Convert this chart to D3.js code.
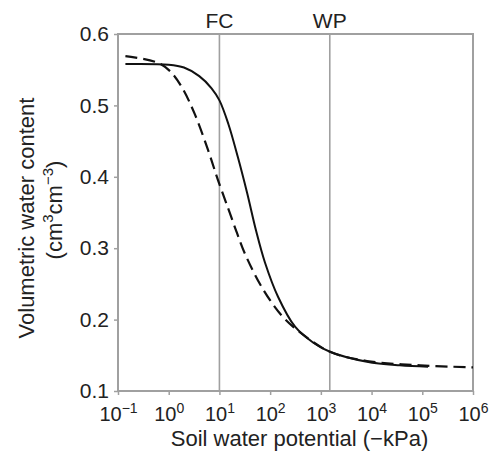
<!DOCTYPE html>
<html>
<head>
<meta charset="utf-8">
<script src="https://cdn.jsdelivr.net/npm/d3@7"></script>
<style>
  body { margin: 0; background: #fff; }
  svg { font-family: "Liberation Sans", Arial, sans-serif; }
</style>
</head>
<body>
<svg id="chart"></svg>
<script>
// Soil water retention curves
// potential in kPa (log axis), theta in cm3/cm3
const solidPsi   = [0.14, 1, 2, 4, 7, 10, 15, 23, 35, 53, 79, 143, 310, 700, 1510, 8100, 36000, 130000];
const solidTheta = [0.558, 0.557, 0.553, 0.541, 0.524, 0.507, 0.474, 0.428, 0.378, 0.324, 0.280, 0.232, 0.190, 0.168, 0.155, 0.141, 0.136, 0.134];

const dashPsi   = [0.14, 0.6, 1.06, 1.83, 3.3, 6, 9.4, 15, 22, 32, 69, 172, 390, 1510, 8100, 91000, 1000000];
const dashTheta = [0.569, 0.560, 0.548, 0.525, 0.487, 0.437, 0.395, 0.355, 0.322, 0.292, 0.245, 0.205, 0.182, 0.155, 0.142, 0.136, 0.133];

const refLines = [{ label: "FC", psi: 10 }, { label: "WP", psi: 1500 }];

const xTicks = [1e-1, 1e0, 1e1, 1e2, 1e3, 1e4, 1e5, 1e6];
const xTickLabels = ["\u22121", "0", "1", "2", "3", "4", "5", "6"];
const yTicks = [0.1, 0.2, 0.3, 0.4, 0.5, 0.6];

const width = 492, height = 454;
const margin = { top: 34, right: 19, bottom: 63, left: 118 };
const innerW = width - margin.left - margin.right;
const innerH = height - margin.top - margin.bottom;

const svg = d3.select("#chart")
  .attr("width", width)
  .attr("height", height);

const g = svg.append("g")
  .attr("transform", `translate(${margin.left},${margin.top})`);

const x = d3.scaleLog().domain([1e-1, 1e6]).range([0, innerW]);
const y = d3.scaleLinear().domain([0.1, 0.6]).range([innerH, 0]);

const frameColor = "#a0a0a0";
const textColor = "#222";

// reference lines FC / WP
refLines.forEach(r => {
  g.append("line")
    .attr("x1", x(r.psi)).attr("x2", x(r.psi))
    .attr("y1", 0).attr("y2", innerH)
    .attr("stroke", frameColor)
    .attr("stroke-width", 1.6);
  g.append("text")
    .attr("x", x(r.psi))
    .attr("y", -6)
    .attr("text-anchor", "middle")
    .attr("font-size", 21)
    .attr("fill", textColor)
    .text(r.label);
});

// axes
const yAxis = d3.axisLeft(y).tickValues(yTicks).tickFormat(d3.format(".1f")).tickSize(4).tickPadding(5);
const yG = g.append("g").call(yAxis);
yG.select(".domain").remove();
yG.selectAll(".tick line").attr("stroke", frameColor).attr("stroke-width", 1.5);
yG.selectAll(".tick text").attr("font-size", 21).attr("fill", textColor);

const xAxis = d3.axisBottom(x).tickValues(xTicks).tickFormat("").tickSize(4);
const xG = g.append("g").attr("transform", `translate(0,${innerH})`).call(xAxis);
xG.select(".domain").remove();
xG.selectAll(".tick line").attr("stroke", frameColor).attr("stroke-width", 1.5);

const xLab = xG.selectAll(".tick").append("text")
  .attr("y", 30)
  .attr("text-anchor", "middle")
  .attr("font-size", 20)
  .attr("fill", textColor);
xLab.append("tspan").text("10");
xLab.append("tspan")
  .attr("dy", -8)
  .attr("font-size", 14)
  .text((d, i) => xTickLabels[i]);

// frame
g.append("rect")
  .attr("width", innerW)
  .attr("height", innerH)
  .attr("fill", "none")
  .attr("stroke", frameColor)
  .attr("stroke-width", 2);

// curves
const line = d3.line()
  .x(d => x(d[0]))
  .y(d => y(d[1]))
  .curve(d3.curveCatmullRom.alpha(0.5));

g.append("path")
  .datum(dashPsi.map((p, i) => [p, dashTheta[i]]))
  .attr("d", line)
  .attr("fill", "none")
  .attr("stroke", "#111")
  .attr("stroke-width", 2.2)
  .attr("stroke-dasharray", "12,6");

g.append("path")
  .datum(solidPsi.map((p, i) => [p, solidTheta[i]]))
  .attr("d", line)
  .attr("fill", "none")
  .attr("stroke", "#111")
  .attr("stroke-width", 2);

// axis titles
g.append("text")
  .attr("x", innerW / 2 + 4)
  .attr("y", innerH + 55)
  .attr("text-anchor", "middle")
  .attr("font-size", 22)
  .attr("fill", textColor)
  .text("Soil water potential (\u2212kPa)");

const yTitle = svg.append("text")
  .attr("transform", "translate(34,218) rotate(-90)")
  .attr("text-anchor", "middle")
  .attr("font-size", 22)
  .attr("fill", textColor);
yTitle.append("tspan").attr("x", 0).attr("y", 0).text("Volumetric water content");

const unit = svg.append("text")
  .attr("transform", "translate(62,210) rotate(-90)")
  .attr("text-anchor", "middle")
  .attr("font-size", 22)
  .attr("fill", textColor);
unit.append("tspan").text("(cm");
unit.append("tspan").attr("dy", -9).attr("font-size", 15).text("3");
unit.append("tspan").attr("dy", 9).text("cm");
unit.append("tspan").attr("dy", -9).attr("font-size", 15).text("\u22123");
unit.append("tspan").attr("dy", 9).text(")");
</script>
</body>
</html>
